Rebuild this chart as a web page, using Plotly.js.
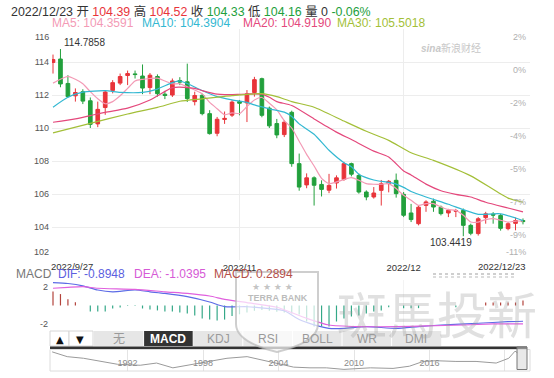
<!DOCTYPE html>
<html><head><meta charset="utf-8">
<script src="https://cdn.plot.ly/plotly-3.0.1.min.js"></script>
<style>html,body{margin:0;padding:0;background:#fff;}#chart{width:554px;height:378px;}</style>
</head><body><div id="chart"></div>
<script>
const W = 554, H = 378;
const FONT = '"Liberation Sans", Arial, "Noto Sans CJK SC", sans-serif';
const RED = '#e8343a', GRN = '#22a03c';

// ---- daily candles 2022/9/27 .. 2022/12/23 ----
const open  = [113.97,114.18,112.70,111.95,112.20,111.65,110.25,111.24,112.28,112.72,
               113.18,113.28,113.15,112.45,113.12,112.05,112.00,112.88,112.80,111.60,
               111.98,110.87,109.68,110.52,110.78,111.60,111.52,112.15,112.99,111.20,
               110.27,109.60,110.95,107.84,106.55,106.98,106.58,106.23,106.67,106.88,
               107.84,107.13,106.12,105.82,106.22,106.63,106.83,105.98,104.85,104.20,
               105.31,105.56,105.20,104.85,104.95,105.00,104.10,103.60,104.57,104.78,
               104.70,103.90,104.22,104.39];
const high  = [114.45,114.7858,113.20,112.40,112.35,111.85,111.60,112.28,112.90,113.30,
               113.48,113.48,113.85,113.33,113.25,112.25,113.00,113.08,113.90,112.20,
               112.08,111.08,110.67,111.00,111.68,111.70,112.30,113.10,113.05,111.30,
               110.55,110.48,111.05,108.45,107.25,107.07,106.83,107.22,107.13,107.95,
               107.90,107.24,106.22,106.42,106.85,106.85,107.24,106.12,105.40,105.30,
               105.62,105.72,105.30,105.10,105.10,105.12,104.20,104.60,104.92,104.90,
               104.80,104.30,104.57,104.52];
const low   = [113.30,112.47,111.85,111.60,111.45,110.00,110.05,110.80,112.10,112.60,
               112.60,113.00,112.05,112.05,111.90,111.75,111.88,112.60,111.58,111.37,
               110.77,109.60,109.50,110.25,110.67,110.77,110.36,111.90,110.65,110.00,
               109.38,109.45,107.65,106.20,106.35,105.30,105.85,106.05,106.33,106.80,
               107.07,106.02,105.62,105.72,105.30,106.10,105.78,104.60,104.30,104.10,
               104.92,104.92,104.70,104.60,104.60,103.4419,103.50,103.48,104.20,104.20,
               103.78,103.80,103.80,104.16];
const close = [114.15,112.67,111.90,112.15,111.63,110.22,111.13,112.18,112.75,113.12,
               113.30,113.24,112.42,113.20,112.08,111.97,112.85,112.78,111.78,111.97,
               110.87,109.66,110.53,110.58,111.57,111.50,112.07,112.93,110.77,110.13,
               109.58,110.35,107.84,106.42,106.98,106.53,106.28,106.52,106.98,107.84,
               107.20,106.12,105.82,106.06,106.62,106.77,106.02,104.71,104.45,105.20,
               105.52,105.21,104.81,105.01,105.00,104.10,103.62,104.50,104.80,104.72,
               103.92,104.20,104.39,104.33];

// moving averages
const ma5 = [112.72,112.95,113.13,112.95,112.68,112.20,111.77,111.47,111.60,111.95,
             112.40,112.85,112.95,113.00,113.02,112.85,112.68,112.68,112.50,112.30,
             112.07,111.55,111.17,110.80,110.92,110.87,111.30,111.70,111.85,111.50,
             111.10,110.45,110.00,109.20,108.40,107.70,106.95,106.63,106.73,106.87,
             106.99,106.83,106.63,106.59,106.59,106.63,106.33,105.92,105.62,105.31,
             105.42,105.42,105.21,105.05,105.01,104.71,104.30,104.30,104.45,104.51,
             104.41,104.30,104.36,104.3591];
const ma10Idx = [0,2,4,7,9,12,14,16,17,18,20,22,24,26,27,29,31,32,33,35,37,39,40,41,43,45,46,47,48,50,53,55,57,60,63];
const ma10 = [111.26,111.86,112.17,112.26,112.16,112.16,112.36,112.75,112.85,112.70,
              112.27,111.90,111.70,111.55,111.40,111.16,110.96,110.70,110.25,109.62,
              108.65,107.90,107.65,107.20,106.85,106.70,106.60,106.40,106.15,105.82,
              105.38,105.05,104.77,104.80,104.3904];
const ma20Idx = [0,3,5,7,10,13,14,16,17,19,20,22,23,26,28,29,30,32,35,38,40,43,45,47,48,50,52,54,56,58,61,63];
const ma20 = [110.35,110.55,110.75,110.95,111.20,111.70,111.95,112.45,112.48,112.40,
              112.27,112.05,112.02,112.06,112.05,111.86,111.60,111.36,110.55,109.75,
              109.30,108.60,108.24,107.40,107.15,106.60,106.20,105.98,105.82,105.50,
              105.15,104.919];
const ma30Idx = [0,5,10,14,17,20,24,28,30,32,35,39,42,45,48,51,56,61,63];
const ma30 = [109.70,110.28,110.85,111.25,111.62,111.77,111.96,112.08,111.90,111.60,
              111.26,110.42,109.80,109.25,108.50,108.04,107.10,105.75,105.5018];
const maNames = ['MA5','MA10','MA20','MA30'];
const maLast = [104.3591,104.3904,104.9190,105.5018];
const maColors = ['#f39ab5','#33b8d2','#e4487c','#a3bf38'];

// MACD panel
const macdHist = [0.80,0.65,0.36,0.19,null,-0.34,-0.34,-0.34,-0.17,-0.11,
                  -0.03,-0.03,-0.17,-0.23,-0.28,-0.34,-0.34,-0.40,-0.45,-0.57,
                  -0.74,-0.80,-0.85,-0.80,-0.60,-0.50,-0.40,-0.30,-0.25,-0.30,
                  -0.35,-0.40,-0.45,-0.51,-0.91,-1.19,-1.19,-1.19,-0.91,-0.74,
                  -0.63,-0.57,-0.45,-0.34,-0.28,-0.10,null,-0.15,-0.15,-0.15,
                  null,null,null,null,-0.10,null,null,null,0.17,0.17,
                  0.17,0.17,0.17,0.2894];
const difIdx = [0,2,4,6,8,11,13,15,18,21,23,26,29,31,33,35,37,39,42,46,49,52,57,61,63];
const dif = [1.30,1.25,1.12,0.88,0.78,0.88,0.78,0.69,0.50,0.20,-0.06,-0.07,-0.18,-0.30,-0.80,-1.10,-1.30,-1.30,-1.20,-1.30,-1.20,-1.11,-1.01,-0.92,-0.8948];
const deaIdx = [0,2,4,6,11,15,18,21,23,26,30,34,37,41,46,50,55,59,63];
const dea = [0.98,1.03,1.07,0.98,0.92,0.78,0.69,0.54,0.35,0.16,-0.10,-0.73,-1.11,-1.20,-1.20,-1.16,-1.11,-1.05,-1.0395];

// navigator (long history)
const navYears = [1986.0,1987.2,1988.5,1989.8,1991.2,1993.0,1994.3,1995.6,1997.2,1998.3,1999.9,2001.5,2003.1,2003.9,2005.2,2006.5,2007.8,2009.2,2011.3,2013.1,2014.4,2015.5,2016.5,2018.1,2019.7,2021.3,2022.3,2022.8,2023.0];
const navVals  = [113.6,102.7,99.0,91.8,85.3,83.1,88.1,77.2,85.3,91.8,99.0,102.7,91.8,88.1,78.8,77.2,77.2,73.7,77.2,75.9,80.9,91.8,93.4,91.8,91.8,88.1,99.0,115.2,111.5];
const navTicks = [1992,1998,2004,2010,2016,2022];

// axis labels
const priceTicks = [102,104,106,108,110,112,114,116];
const pctLabels  = ['-11%','-9%','-7%','-5%','-4%','-2%','0%','2%'];
const tabs = ['无','MACD','KDJ','RSI','BOLL','WR','DMI'];
const activeTab = 'MACD';

// trading days
function tradingDays(s, e){
  const out=[]; const d=new Date(s+'T00:00:00Z'); const end=new Date(e+'T00:00:00Z');
  while(d<=end){ const w=d.getUTCDay(); if(w!==0&&w!==6){ out.push(d.getUTCFullYear()+'/'+(d.getUTCMonth()+1)+'/'+d.getUTCDate()); } d.setUTCDate(d.getUTCDate()+1); }
  return out;
}
const dates = tradingDays('2022-09-27','2022-12-23');
const idx = dates.map((_,i)=>i);
const iNov = dates.indexOf('2022/11/1'), iDec = dates.indexOf('2022/12/1');
const last = close.length-1;

const fx = x => x/W, fy = y => 1 - y/H;

const traces = [
  {type:'candlestick', x:idx, open, high, low, close, xaxis:'x', yaxis:'y', whiskerwidth:0,
   increasing:{line:{color:RED,width:1}, fillcolor:RED},
   decreasing:{line:{color:GRN,width:1}, fillcolor:GRN}, hoverinfo:'skip'},
  {type:'scatter', mode:'lines', x:idx, y:ma5, line:{color:maColors[0],width:1.2,shape:'spline',smoothing:0.6}, xaxis:'x', yaxis:'y'},
  {type:'scatter', mode:'lines', x:ma10Idx, y:ma10, line:{color:maColors[1],width:1.2,shape:'spline',smoothing:0.6}, xaxis:'x', yaxis:'y'},
  {type:'scatter', mode:'lines', x:ma20Idx, y:ma20, line:{color:maColors[2],width:1.2,shape:'spline',smoothing:0.6}, xaxis:'x', yaxis:'y'},
  {type:'scatter', mode:'lines', x:ma30Idx, y:ma30, line:{color:maColors[3],width:1.2,shape:'spline',smoothing:0.6}, xaxis:'x', yaxis:'y'},
  {type:'bar', x:idx, y:macdHist, width:0.16, marker:{color:macdHist.map(v=>v>0?'#b3433c':'#34a887')}, xaxis:'x2', yaxis:'y2'},
  {type:'scatter', mode:'lines', x:difIdx, y:dif, line:{color:'#5c6be6',width:1.2,shape:'spline',smoothing:0.6}, xaxis:'x2', yaxis:'y2'},
  {type:'scatter', mode:'lines', x:deaIdx, y:dea, line:{color:'#e060de',width:1.2,shape:'spline',smoothing:0.6}, xaxis:'x2', yaxis:'y2'},
  {type:'scatter', mode:'lines', x:navYears, y:navVals, line:{color:'#9a9a9a',width:1}, xaxis:'x3', yaxis:'y3'}
];

const ann = [];
const pA = (x,y,text,o={}) => ann.push(Object.assign({xref:'paper',yref:'paper',x:fx(x),y:fy(y),text,showarrow:false,xanchor:'left',yanchor:'middle',font:{family:FONT,size:12,color:'#333'}},o));
const fmt = v => v.toFixed(2);
const chg = ((close[last]/close[last-1]-1)*100).toFixed(2)+'%';
const sp = (c,t)=>`<span style="color:${c}">${t}</span>`;
pA(9,11.5, `${dates[last]} 开 ${sp(RED,fmt(open[last]))} 高 ${sp(RED,fmt(high[last]))} 收 ${sp(GRN,fmt(close[last]))} 低 ${sp(GRN,fmt(low[last]))} 量 0 ${sp(GRN,chg)}`, {font:{family:FONT,size:12.4,color:'#333'}});
const maX = [50,140,241,335];
maNames.forEach((n,k)=>pA(maX[k],23,`${n}: ${maLast[k].toFixed(4)}`,{font:{family:FONT,size:12,color:maColors[k]}}));

// price extremes
const iMax = high.indexOf(Math.max(...high)), iMin = low.indexOf(Math.min(...low));
ann.push({xref:'x',yref:'y',x:iMax,y:high[iMax],text:high[iMax].toFixed(4),showarrow:false,xanchor:'left',yanchor:'bottom',xshift:2,yshift:-1,font:{family:FONT,size:10,color:'#333'}});
ann.push({xref:'x',yref:'y',x:iMin,y:low[iMin],text:low[iMin].toFixed(4),showarrow:false,xanchor:'center',yanchor:'top',xshift:-12,yshift:1,font:{family:FONT,size:10,color:'#333'}});

// left edge labels (clamped), right percentage labels
ann.push({xref:'paper',yref:'y',x:fx(50.5),y:116,text:'116',showarrow:false,xanchor:'right',yanchor:'top',yshift:-1,font:{family:FONT,size:9,color:'#555'}});
ann.push({xref:'paper',yref:'y',x:fx(50.5),y:102,text:'102',showarrow:false,xanchor:'right',yanchor:'bottom',yshift:1,font:{family:FONT,size:9,color:'#555'}});
priceTicks.forEach((p,k)=>ann.push({xref:'paper',yref:'y',x:fx(528),y:p,text:pctLabels[k],showarrow:false,xanchor:'right',yanchor:k===0?'bottom':'top',yshift:k===0?1:-1,font:{family:FONT,size:9,color:'#b0b0b0'}}));

// date labels at ends
ann.push({xref:'x',yref:'paper',x:0,y:fy(266),text:dates[0],showarrow:false,xanchor:'left',yanchor:'middle',xshift:-4,font:{family:FONT,size:9.5,color:'#333'}});
ann.push({xref:'paper',yref:'paper',x:fx(528),y:fy(266),text:dates[last],showarrow:false,xanchor:'right',yanchor:'middle',font:{family:FONT,size:9.5,color:'#333'}});

// MACD header
pA(14,274,'MACD',{font:{family:FONT,size:12,color:'#777'}});
pA(56,274,`DIF: ${dif[dif.length-1].toFixed(4)}`,{font:{family:FONT,size:12,color:'#5c5fe0'}});
pA(132,274,`DEA: ${dea[dea.length-1].toFixed(4)}`,{font:{family:FONT,size:12,color:'#d65ad6'}});
pA(212,274,`MACD: ${macdHist[last].toFixed(4)}`,{font:{family:FONT,size:12,color:'#b5504a'}});
pA(50,287,'2',{xanchor:'right',font:{family:FONT,size:9,color:'#555'}});
pA(50,324,'-2',{xanchor:'right',font:{family:FONT,size:9,color:'#555'}});

// tabs
const shapes = [];
const rect = (x0,y0,x1,y1,o={}) => shapes.push(Object.assign({type:'rect',xref:'paper',yref:'paper',x0:fx(x0),x1:fx(x1),y0:fy(y1),y1:fy(y0),line:{width:0}},o));
rect(50,331,69,346,{fillcolor:'#fff',line:{color:'#d6d6d6',width:1}});
rect(69,331,93,346,{fillcolor:'#fff',line:{color:'#d6d6d6',width:1}});
pA(59.5,339,'▲',{xanchor:'center',font:{family:'DejaVu Sans',size:10,color:'#111'}});
pA(80,339,'▼',{xanchor:'center',font:{family:'DejaVu Sans',size:10,color:'#111'}});
const tabX0 = 94, tabW = 49.6;
rect(tabX0,331,tabX0+tabW*tabs.length,346,{fillcolor:'#e6e6e6'});
tabs.forEach((t,k)=>{
  const x0 = tabX0+k*tabW;
  if(t===activeTab) rect(x0,331,x0+tabW,346,{fillcolor:'#333'});
  if(k>0) shapes.push({type:'line',xref:'paper',yref:'paper',x0:fx(x0),x1:fx(x0),y0:fy(346),y1:fy(331),line:{color:'#fff',width:1}});
  pA(x0+tabW/2,339,t,{xanchor:'center',font:{family:FONT,size:12,color:t===activeTab?'#fff':'#9a9a9a',weight:t===activeTab?'bold':'normal'}});
});
rect(50,346.5,527,349.5,{fillcolor:'#333'});
rect(50,349.5,530,371,{line:{color:'#dcdcdc',width:1}});
rect(517,347,527,369.5,{fillcolor:'rgba(215,215,215,0.55)',line:{color:'#777',width:1}});

// watermarks
shapes.push({type:'path',xref:'paper',yref:'paper',layer:'above',
  path:`M ${fx(236)},${fy(272)} L ${fx(318)},${fy(272)} L ${fx(318)},${fy(324)} Q ${fx(318)},${fy(342)} ${fx(277)},${fy(352)} Q ${fx(236)},${fy(342)} ${fx(236)},${fy(324)} Z`,
  fillcolor:'rgba(255,255,255,0.7)',line:{color:'rgba(185,185,185,0.7)',width:2}});
pA(272,287,'★ ★ ★ ★',{xanchor:'center',font:{family:'DejaVu Sans',size:9,color:'rgba(180,180,180,0.8)'}});
pA(278,298,'<b>TERRA BANK</b>',{xanchor:'center',font:{family:FONT,size:9,color:'rgba(175,175,175,0.85)'}});
pA(437,312,'斑馬投新',{xanchor:'center',font:{family:'"Noto Sans CJK TC", sans-serif',size:50,color:'rgba(160,160,160,0.32)'}});
pA(419,48,'<b><i>sina</i></b>新浪财经',{font:{family:FONT,size:10,color:'#c8c8c8'}});
shapes.push({type:'line',xref:'paper',yref:'paper',x0:fx(433),x1:fx(516),y0:fy(274),y1:fy(274),line:{color:'#cfcfcf',width:2,dash:'dot'}});
shapes.push({type:'line',xref:'paper',yref:'paper',x0:fx(433),x1:fx(516),y0:fy(277),y1:fy(277),line:{color:'#dcdcdc',width:2,dash:'dot'}});

const xr = [-0.134, 63.94];
const layout = {
  width:W, height:H, margin:{l:0,r:0,t:0,b:0}, paper_bgcolor:'#fff', plot_bgcolor:'#fff',
  showlegend:false, font:{family:FONT,size:10,color:'#333'}, boxgap:0.3,
  xaxis:{domain:[fx(52),fx(530)], range:xr, anchor:'y', tickvals:[iNov,iDec], ticktext:[dates[iNov].slice(0,7),dates[iDec].slice(0,7)],
         showgrid:true, gridcolor:'#ededed', zeroline:false, showline:false, ticks:'', tickfont:{family:FONT,size:9.5,color:'#333'}, rangeslider:{visible:false}, fixedrange:true},
  yaxis:{domain:[fy(260),fy(29)], range:[102,116], anchor:'x', tickvals:priceTicks, ticktext:priceTicks.map(v=>(v===102||v===116)?'':String(v)),
         showgrid:true, gridcolor:'#ededed', zeroline:false, ticks:'', tickfont:{family:FONT,size:9,color:'#555'}, ticklabelstandoff:2, fixedrange:true},
  xaxis2:{domain:[fx(52),fx(530)], range:xr, anchor:'y2', tickvals:[iNov,iDec], showticklabels:false, showgrid:true, gridcolor:'#f3f3f3', zeroline:false, ticks:'', fixedrange:true},
  yaxis2:{domain:[fy(331),fy(280)], range:[-1.45,1.45], anchor:'x2', showticklabels:false, showgrid:false, zeroline:false, fixedrange:true},
  xaxis3:{domain:[fx(50),fx(530)], range:[1985.83,2023.99], anchor:'y3', tickvals:navTicks, ticktext:navTicks.map(v=>v===2022?'':String(v)),
          ticklabelposition:'inside', showgrid:true, gridcolor:'#e4e4e4', zeroline:false, ticks:'', tickfont:{family:FONT,size:9,color:'#8a8a8a'}, fixedrange:true},
  yaxis3:{domain:[fy(371),fy(349.5)], range:[70,119], anchor:'x3', visible:false, fixedrange:true},
  annotations:ann, shapes
};
Plotly.newPlot('chart', traces, layout, {staticPlot:true, displayModeBar:false});
</script></body></html>
